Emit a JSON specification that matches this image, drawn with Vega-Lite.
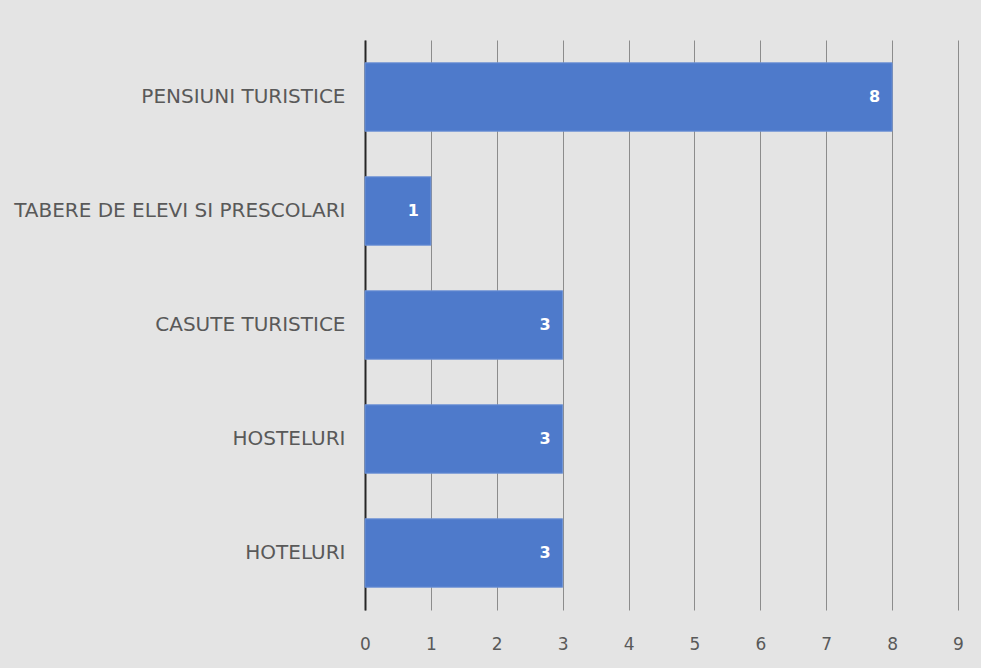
{
  "$schema": "https://vega.github.io/schema/vega-lite/v6.json",
  "width": 593,
  "height": 570,
  "autosize": "none",
  "padding": {"left": 365, "top": 40, "right": 23, "bottom": 58},
  "background": "#e4e4e4",
  "config": {"view": {"stroke": null}, "font": "DejaVu Sans"},
  "data": {"values": [
    {"cat": "PENSIUNI TURISTICE", "n": 8},
    {"cat": "TABERE DE ELEVI SI PRESCOLARI", "n": 1},
    {"cat": "CASUTE TURISTICE", "n": 3},
    {"cat": "HOSTELURI", "n": 3},
    {"cat": "HOTELURI", "n": 3}
  ]},
  "encoding": {
    "y": {"field": "cat", "type": "nominal", "sort": null,
      "scale": {"paddingInner": 0.4, "paddingOuter": 0.2},
      "axis": {"title": null, "ticks": false, "domainColor": "#262626", "domainWidth": 2, "labelFontSize": 20, "labelColor": "#595959", "labelPadding": 20, "labelFont": "DejaVu Sans", "labelLimit": 400}},
    "x": {"field": "n", "type": "quantitative",
      "scale": {"domain": [0, 9], "nice": false},
      "axis": {"title": null, "values": [0,1,2,3,4,5,6,7,8,9], "labelOverlap": false, "domain": false, "ticks": false, "grid": true, "gridColor": "#8c8c8c", "gridWidth": 1, "labelFontSize": 17, "labelColor": "#595959", "labelPadding": 26, "labelFont": "DejaVu Sans", "labelFlush": false}}
  },
  "layer": [
    {"mark": {"type": "bar", "color": "#4e7acb", "stroke": "#6f93d6", "strokeWidth": 1}},
    {"mark": {"type": "text", "align": "right", "dx": -12, "color": "white", "fontWeight": "bold", "fontSize": 16, "baseline": "middle"},
     "encoding": {"text": {"field": "n", "type": "quantitative"}}}
  ]
}
